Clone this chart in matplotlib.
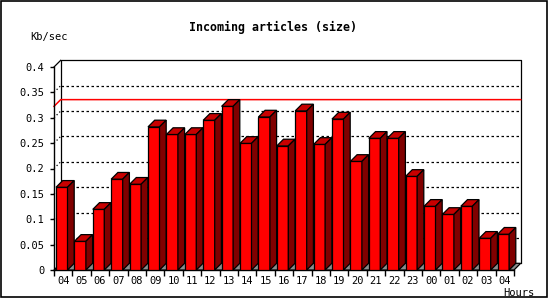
import matplotlib
matplotlib.use('Agg')
import matplotlib.pyplot as plt
from matplotlib.patches import Polygon, Rectangle

hours = ['04', '05', '06', '07', '08', '09', '10', '11', '12', '13', '14', '15', '16',
         '17', '18', '19', '20', '21', '22', '23', '00', '01', '02', '03', '04']
kbsec = [0.163, 0.0565, 0.1195, 0.179, 0.169, 0.282, 0.267, 0.267, 0.295, 0.3225,
         0.2495, 0.3015, 0.2445, 0.3135, 0.2475, 0.2975, 0.214, 0.2595, 0.2595, 0.1845,
         0.1255, 0.1095, 0.1255, 0.0625, 0.0705]
yticks = [0, 0.05, 0.1, 0.15, 0.2, 0.25, 0.3, 0.35, 0.4]
ytick_labels = ['0', '0.05', '0.1', '0.15', '0.2', '0.25', '0.3', '0.35', '0.4']

font = 'DejaVu Sans Mono'
n = len(kbsec)
ymax = 0.4
# pixel sizes of one x unit / one y unit on the front plane
px_x = 460.0 / n
px_y = 203.0 / ymax
dx = 6.7 / px_x
dy = 6.7 / px_y

fig = plt.figure(figsize=(5.5, 3), dpi=100)
ax = fig.add_axes([54 / 550, 30 / 300, 460 / 550, 203 / 300])
ax.set_xlim(-0.5, n - 0.5)
ax.set_ylim(0, ymax)
for s in ['top', 'right']:
    ax.spines[s].set_visible(False)
ax.spines['left'].set_linewidth(1)
ax.spines['bottom'].set_linewidth(1)

x0 = -0.5
x1 = n - 0.5
lw = 0.9

# back plane and walls
ax.plot([x0 + dx, x0 + dx, x1 + dx, x1 + dx], [dy, ymax + dy, ymax + dy, dy],
        color='black', lw=lw, clip_on=False, zorder=1)
ax.plot([x0, x0 + dx], [ymax, ymax + dy], color='black', lw=lw, clip_on=False, zorder=1)
for v in yticks[1:-1]:
    ax.plot([x0 + dx, x1 + dx], [v + dy, v + dy], color='black', lw=lw,
            linestyle=(0, (2, 2)), clip_on=False, zorder=1)
    ax.plot([x0, x0 + dx], [v, v + dy], color='black', lw=lw,
            linestyle=(0, (1, 2)), clip_on=False, zorder=1)
top = max(kbsec)
ax.plot([x0, x0 + dx, x1 + dx], [top, top + dy, top + dy], color='#ff0000', lw=1.1,
        clip_on=False, zorder=2)

# floor
floor = Polygon([[x0, 0], [x1, 0], [x1 + dx, dy], [x0 + dx, dy]], closed=True,
                facecolor='#8c8c8c', edgecolor='black', lw=lw, clip_on=False, zorder=3)
ax.add_patch(floor)

# bars
w = 11.5 / px_x
off = 2.0 / px_x
z = 4
for i, v in enumerate(kbsec):
    xl = i - 0.5 + off
    ax.bar(xl, v, width=w, align='edge', color='#ff0000', edgecolor='black',
           linewidth=lw, zorder=z)
    topface = Polygon([[xl, v], [xl + w, v], [xl + w + dx, v + dy], [xl + dx, v + dy]],
                      closed=True, facecolor='#c80000', edgecolor='black', lw=lw,
                      clip_on=False, zorder=z)
    side = Polygon([[xl + w, 0], [xl + w + dx, dy], [xl + w + dx, v + dy], [xl + w, v]],
                   closed=True, facecolor='#800000', edgecolor='black', lw=lw,
                   clip_on=False, zorder=z)
    ax.add_patch(topface)
    ax.add_patch(side)
    z += 1

ax.set_yticks(yticks)
ax.set_yticklabels(ytick_labels, fontfamily=font, fontsize=7.5)
ax.tick_params(axis='y', length=3, width=1, pad=4)
ax.set_xticks([i - 0.5 for i in range(n + 1)])
ax.set_xticklabels([])
ax.tick_params(axis='x', which='major', length=4, width=1, direction='out')
ax.set_xticks(range(n), minor=True)
ax.set_xticklabels(hours, minor=True, fontfamily=font, fontsize=7.5)
ax.tick_params(axis='x', which='minor', length=0, pad=4)

fig.text(273 / 550, 1 - 27 / 300, 'Incoming articles (size)', ha='center', va='center',
         fontfamily=font, fontsize=8.4, fontweight='bold')
fig.text(30 / 550, 1 - 37 / 300, 'Kb/sec', ha='left', va='center', fontfamily=font, fontsize=7.5)
fig.text(519 / 550, 1 - 292.5 / 300, 'Hours', ha='center', va='center', fontfamily=font, fontsize=7.5)

fig.patches.append(Rectangle((0.5 / 550, 3.3 / 300), 546 / 550, 296.2 / 300, fill=False,
                             edgecolor='black', lw=1.2, transform=fig.transFigure))

fig.savefig('out.png', dpi=100, facecolor='white')
